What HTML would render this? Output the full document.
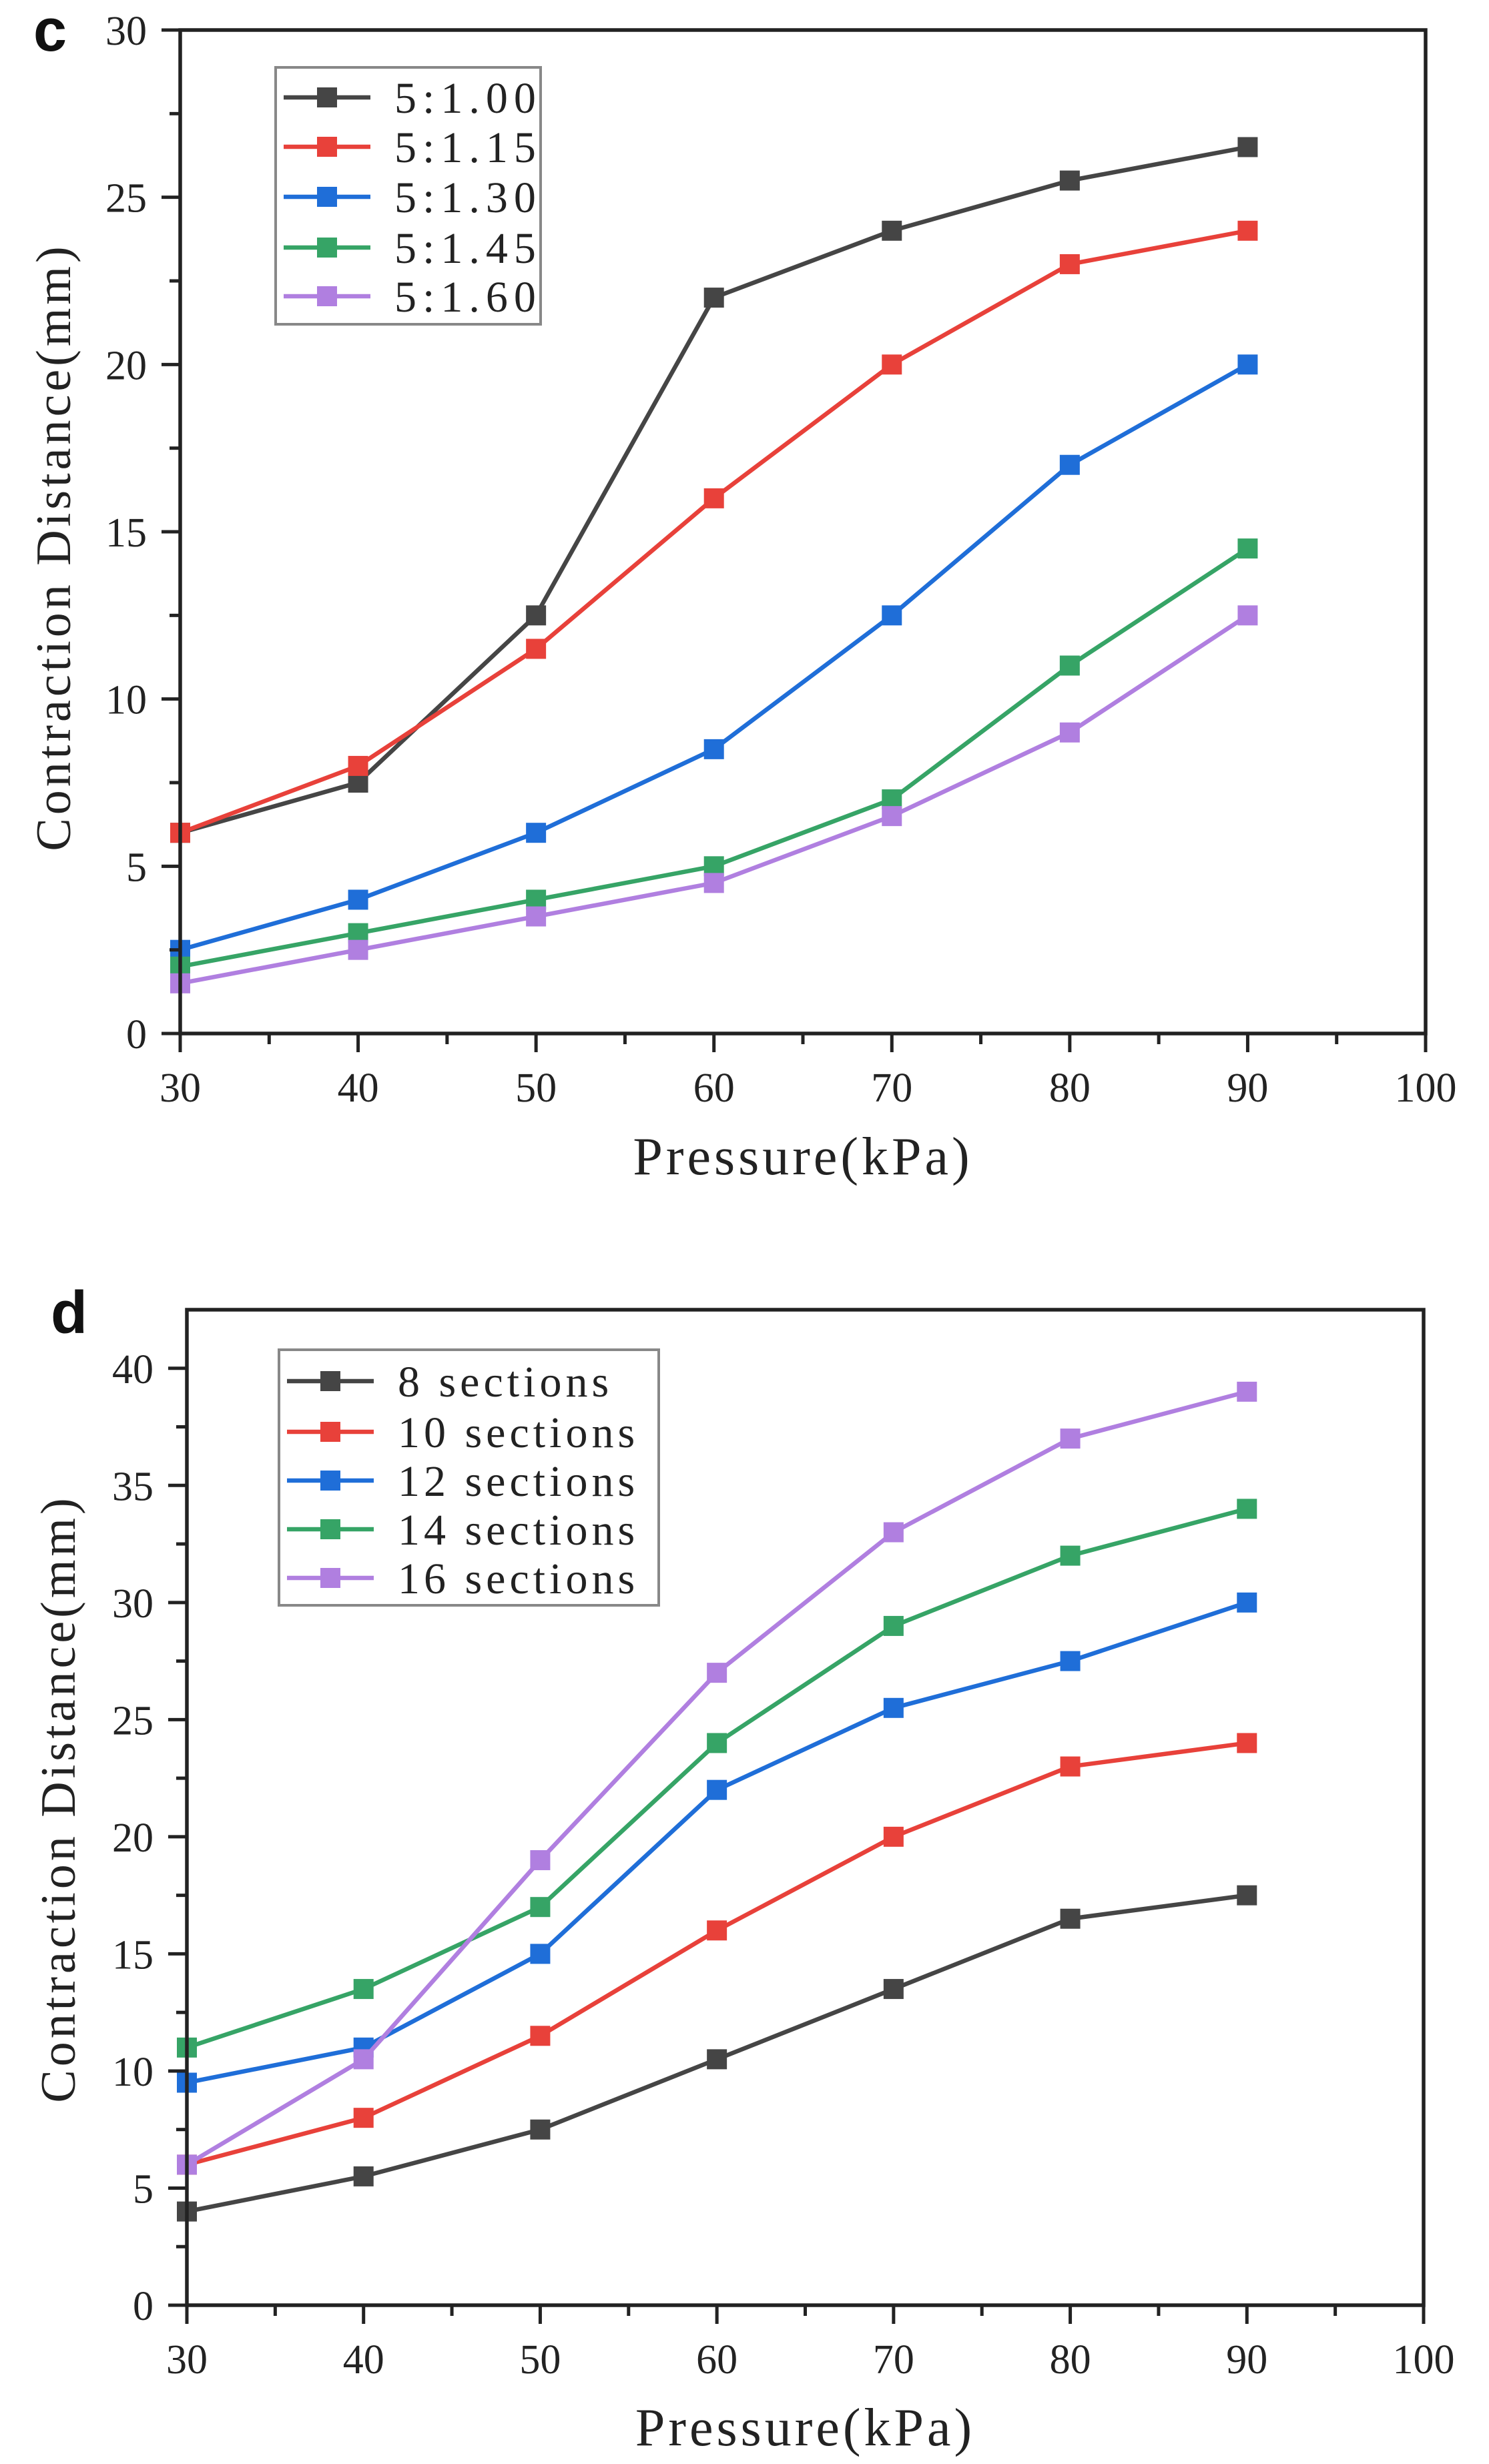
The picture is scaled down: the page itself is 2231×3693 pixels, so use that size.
<!DOCTYPE html>
<html><head><meta charset="utf-8"><style>
body{margin:0;background:#fff}
svg{display:block}
text{font-family:"Liberation Serif","Noto Serif CJK SC",serif;fill:#222}
</style></head><body>
<svg id="svg" width="2231" height="3693" viewBox="0 0 2231 3693" xmlns="http://www.w3.org/2000/svg">
<text x="50" y="76" style="font-family:'Liberation Sans',sans-serif;font-weight:bold;font-size:90px;fill:#111">c</text>
<text x="76" y="1998" style="font-family:'Liberation Sans',sans-serif;font-weight:bold;font-size:90px;fill:#111">d</text>
</svg>
<script>
const xCats=[30,40,50,60,70,80,90];
const xTicks=[30,40,50,60,70,80,90,100];
const cNames=["5:1.00","5:1.15","5:1.30","5:1.45","5:1.60"];
const c100=[6,7.5,12.5,22,24,25.5,26.5];
const c115=[6,8,11.5,16,20,23,24];
const c130=[2.5,4,6,8.5,12.5,17,20];
const c145=[2,3,4,5,7,11,14.5];
const c160=[1.5,2.5,3.5,4.5,6.5,9,12.5];
const cYTicks=[0,5,10,15,20,25,30];
const dNames=["8 sections","10 sections","12 sections","14 sections","16 sections"];
const d8=[4,5.5,7.5,10.5,13.5,16.5,17.5];
const d10=[6,8,11.5,16,20,23,24];
const d12=[9.5,11,15,22,25.5,27.5,30];
const d14=[11,13.5,17,24,29,32,34];
const d16=[6,10.5,19,27,33,37,39];
const dYTicks=[0,5,10,15,20,25,30,35,40];
const colors=["#454545","#e8413a","#1f6ed8","#36a466","#b07fe0"];
const NS="http://www.w3.org/2000/svg";
const svg=document.getElementById('svg');
function mk(tag,attrs,parent){const e=document.createElementNS(NS,tag);for(const k in attrs)e.setAttribute(k,attrs[k]);(parent||svg).appendChild(e);return e;}
function chart(cfg){
  const g=mk('g',{});
  
  
  const sx=v=>cfg.L+(v-30)/70*(cfg.R-cfg.L);
  const sy=v=>cfg.B-(v-0)/cfg.ymax*(cfg.B-cfg.T);
  cfg.series.forEach((s,i)=>{
    const pts=xCats.map((x,j)=>sx(x)+','+sy(s[j])).join(' ');
    const pl=mk('polyline',{points:pts,fill:'none',stroke:colors[i],'stroke-width':6.5,'stroke-linejoin':'round'},g);
    
    
    xCats.forEach((x,j)=>{
      const r=mk('rect',{x:sx(x)-15,y:sy(s[j])-15,width:30,height:30,fill:colors[i]},g);
      
      
    });
  });
  const ax=mk('path',{d:`M${cfg.L},${cfg.T}H${cfg.R}V${cfg.B}H${cfg.L}Z`,fill:'none',stroke:'#222','stroke-width':5.5},g);
  
  
  xTicks.forEach(v=>{
    mk('line',{x1:sx(v),x2:sx(v),y1:cfg.B,y2:cfg.B+28,stroke:'#222','stroke-width':5},g);
    const t=mk('text',{x:sx(v),y:cfg.B+102,'text-anchor':'middle','font-size':62},g);
    t.textContent=v;
    
    
    if(v<100)mk('line',{x1:sx(v+5),x2:sx(v+5),y1:cfg.B,y2:cfg.B+16,stroke:'#222','stroke-width':5},g);
  });
  cfg.yticks.forEach(v=>{
    mk('line',{x1:cfg.L-28,x2:cfg.L,y1:sy(v),y2:sy(v),stroke:'#222','stroke-width':5},g);
    const t=mk('text',{x:cfg.L-50,y:sy(v)+22,'text-anchor':'end','font-size':62},g);
    t.textContent=v;
    
    
    if(sy(v+2.5)>cfg.T+5)mk('line',{x1:cfg.L-16,x2:cfg.L,y1:sy(v+2.5),y2:sy(v+2.5),stroke:'#222','stroke-width':5},g);
  });
  const xt=mk('text',{x:(cfg.L+cfg.R)/2,y:cfg.xtY,'text-anchor':'middle','font-size':80,'letter-spacing':5},g);
  xt.textContent='Pressure(kPa)';
  
  
  const yt=mk('text',{x:0,y:0,'text-anchor':'middle','font-size':74,'letter-spacing':5,transform:`translate(${cfg.ytX},${cfg.ytY}) rotate(-90)`},g);
  yt.textContent='Contraction Distance(mm)';
  
  
  const lg=cfg.leg;
  const box=mk('rect',{x:lg.x,y:lg.y,width:lg.w,height:lg.h,fill:'#fff',stroke:'#888','stroke-width':4},g);
  
  
  cfg.names.forEach((n,i)=>{
    const yy=lg.rows[i];
    mk('line',{x1:lg.x+12,x2:lg.x+142,y1:yy,y2:yy,stroke:colors[i],'stroke-width':6.5},g);
    mk('rect',{x:lg.x+62,y:yy-15,width:30,height:30,fill:colors[i]},g);
    const t=mk('text',{x:lg.x+178,y:yy+23,'font-size':66,'letter-spacing':lg.ls},g);
    t.textContent=n;
    
    
  });
}
chart({id:'chart-c',L:270,R:2136,T:45,B:1549,ymax:30,yticks:cYTicks,series:[c100,c115,c130,c145,c160],names:cNames,
  xtY:1760,ytX:105,ytY:820,leg:{x:413,y:101,w:397,h:385,ls:9,rows:[146,220,295,371,444]}});
chart({id:'chart-d',L:280,R:2133,T:1963,B:3455,ymax:42.5,yticks:dYTicks,series:[d8,d10,d12,d14,d16],names:dNames,
  xtY:3665,ytX:112,ytY:2696,leg:{x:418,y:2023,w:569,h:383,ls:6,rows:[2070,2146,2219,2292,2365]}});
</script>
</body></html>
